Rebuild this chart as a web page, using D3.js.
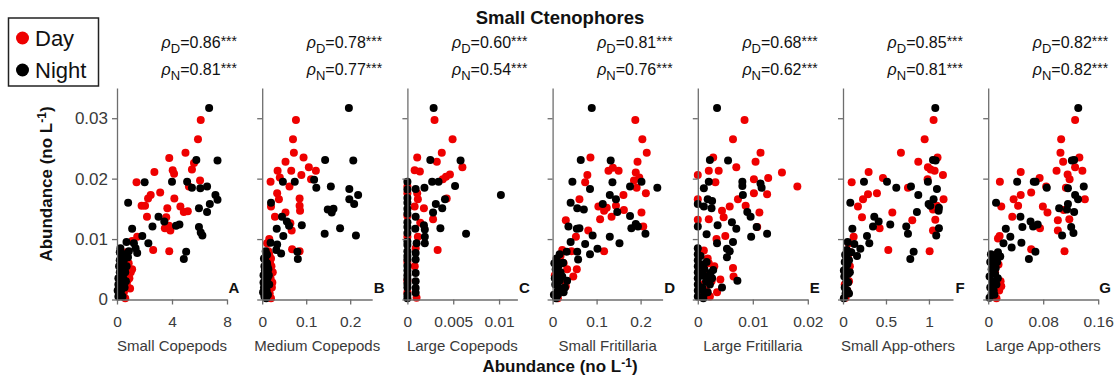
<!DOCTYPE html>
<html><head><meta charset="utf-8">
<script src="https://cdn.jsdelivr.net/npm/d3@7"></script>
<style>body{margin:0;background:#fff}svg{display:block}</style>
</head><body>
<svg id="chart" width="1118" height="378"></svg>
<script>
const categories = ["Small Copepods","Medium Copepods","Large Copepods","Small Fritillaria","Large Fritillaria","Small App-others","Large App-others"];
const panelLetters = ["A","B","C","D","E","F","G"];
const rhoDay = ["0.86","0.78","0.60","0.81","0.68","0.85","0.82"];
const rhoNight = ["0.81","0.77","0.54","0.76","0.62","0.81","0.82"];
const xMax = [8,0.25,0.012,0.25,0.02,1.28,0.16];
const xTicks = [[0,4,8],[0,0.1,0.2],[0,0.005,0.01],[0,0.1,0.2],[0,0.01,0.02],[0,0.5,1],[0,0.08,0.16]];
const xTickLabels = [["0","4","8"],["0","0.1","0.2"],["0","0.005","0.01"],["0","0.1","0.2"],["0","0.01","0.02"],["0","0.5","1"],["0","0.08","0.16"]];
const yTicks = [0,0.01,0.02,0.03];
const yTickLabels = ["0","0.01","0.02","0.03"];
const yMax = 0.035;

const dayA = [[6.09,0.0297],[5.89,0.0265],[4.98,0.0243],[3.80,0.0234],[5.6,0.0226],[5.45,0.0215],[4.05,0.0214],[4.15,0.0208],[2.72,0.0211],[1.42,0.0194],[6.04,0.0197],[5.23,0.0187],[2.45,0.0173],[2.26,0.0167],[3.14,0.0177],[1.79,0.0155],[2.04,0.0155],[4.17,0.0167],[3.66,0.0151],[4.61,0.0154],[4.86,0.0145],[5.15,0.0146],[2.18,0.0137],[3.58,0.0136],[3.78,0.0122],[3.48,0.0118],[3.88,0.0114],[2.63,0.0082],[3.80,0.0080],[1.47,0.0104],[1.10,0.0097],
 [0.6,0.0002],[0.8,0.002],[0.9,0.0035],[1.0,0.0045],[0.7,0.005],[0.5,0.0012],[0.85,0.006],[0.6,0.0065],[0.45,0.0028],[1.1,0.005],[0.75,0.003],[0.55,0.0058],[0.95,0.0018],[0.4,0.007],[0.7,0.0078]];
const nightA = [[6.70,0.0317],[7.31,0.0230],[5.77,0.0231],[2.01,0.0194],[4.0,0.0195],[5.1,0.0195],[5.45,0.0185],[6.06,0.0184],[6.55,0.0187],[7.16,0.0173],[7.31,0.0165],[6.75,0.0158],[0.81,0.0160],[3.02,0.0137],[3.44,0.0129],[4.29,0.0122],[4.54,0.0124],[5.96,0.0151],[6.55,0.0145],[5.96,0.0120],[6.09,0.0111],[6.21,0.0106],[2.58,0.0121],[1.10,0.0117],[1.84,0.0105],[2.28,0.0093],[1.23,0.0093],[1.35,0.0085],[0.69,0.0095],[0.86,0.0080],[5.03,0.0079],[4.86,0.0067],[1.47,0.0077],
 [0.1,0.0005],[0.2,0.001],[0.15,0.002],[0.3,0.0015],[0.25,0.003],[0.1,0.0035],[0.35,0.004],[0.2,0.0045],[0.4,0.005],[0.15,0.0055],[0.3,0.006],[0.5,0.0065],[0.45,0.0035],[0.55,0.002],[0.6,0.0045],[0.7,0.0055],[0.35,0.007],[0.6,0.0075],[0.8,0.007],[0.05,0.0015],[0.4,0.0005],[0.3,0.0025],[0.5,0.0045],[0.2,0.0065],[0.65,0.003],[0.25,0.0085],[0.45,0.0075],[0.1,0.0025],[0.2,0.0078]];

const dayB = [[0.0767,0.0297],[0.070,0.0265],[0.072,0.0243],[0.053,0.0228],[0.094,0.0235],[0.106,0.0219],[0.122,0.0213],[0.035,0.0213],[0.066,0.0213],[0.040,0.0202],[0.089,0.0206],[0.019,0.0195],[0.111,0.0199],[0.062,0.0187],[0.034,0.0176],[0.038,0.0166],[0.085,0.0167],[0.020,0.0154],[0.085,0.0155],[0.086,0.0147],[0.053,0.0144],[0.029,0.0137],[0.064,0.0126],[0.067,0.0114],[0.016,0.0100],[0.068,0.0083],[0.085,0.0080],[0.011,0.0093],
 [0.02,0.0002],[0.022,0.002],[0.019,0.0035],[0.024,0.0045],[0.018,0.006],[0.017,0.001],[0.021,0.0055],[0.016,0.0075],[0.023,0.0028],[0.014,0.008],[0.02,0.0068]];
const nightB = [[0.197,0.0317],[0.143,0.0231],[0.207,0.0230],[0.047,0.0195],[0.074,0.0195],[0.118,0.0198],[0.123,0.0185],[0.156,0.0187],[0.198,0.0183],[0.218,0.0173],[0.198,0.0166],[0.209,0.0158],[0.020,0.0160],[0.149,0.0149],[0.162,0.0150],[0.158,0.0144],[0.045,0.0137],[0.056,0.0129],[0.061,0.0122],[0.033,0.0117],[0.090,0.0123],[0.048,0.0105],[0.142,0.0109],[0.177,0.0118],[0.213,0.0106],[0.019,0.0094],[0.034,0.0091],[0.032,0.0082],[0.043,0.0076],[0.080,0.0079],[0.081,0.0067],[0.008,0.0080],[0.011,0.0074],
 [0.005,0.0005],[0.008,0.001],[0.004,0.002],[0.01,0.0015],[0.006,0.003],[0.012,0.0035],[0.003,0.004],[0.009,0.0045],[0.014,0.005],[0.005,0.0055],[0.011,0.006],[0.007,0.0065],[0.016,0.0025],[0.013,0.0008],[0.002,0.0012],[0.008,0.0072],[0.004,0.0068],[0.015,0.004],[0.01,0.0025],[0.006,0.0048],[0.012,0.0055],[0.003,0.0028],[0.009,0.0002]];

const dayC = [[0.00296,0.0297],[0.00493,0.0265],[0.00375,0.0243],[0.00321,0.0228],[0.00107,0.0235],[0.0060,0.0219],[0.00079,0.0214],[0.00136,0.0212],[0.00464,0.0207],[0.00421,0.0203],[0.00386,0.0199],[0.00107,0.0176],[0.00114,0.0166],[0.00429,0.0167],[0.00079,0.0154],[0.0018,0.0151],[0.0028,0.0133],[0.00114,0.0104],[0.0014,0.0127],[0.0033,0.0082],[0.001,0.0003],
 [0,0.0187],[0,0.0176],[0,0.0138],[0,0.0104],[0,0.0062],[0,0.0031],[0,0.0012],[0.0009,0.0085],[0.0008,0.0055]];
const nightC = [[0.00286,0.0317],[0.0025,0.0231],[0.0058,0.0230],[0.0027,0.0195],[0.0034,0.0195],[0.00186,0.0185],[0.0052,0.0188],[0.0009,0.0183],[0.0102,0.0173],[0.0041,0.0166],[0.0031,0.0158],[0.0038,0.0151],[0.0028,0.0144],[0.0009,0.0137],[0.0018,0.0123],[0.0019,0.0116],[0.00086,0.0117],[0.0036,0.0118],[0.0064,0.0109],[0.0019,0.0104],[0.0019,0.0093],[0.001,0.0093],[0.0009,0.0077],[0.0009,0.0066],[0.0009,0.0044],[0.0009,0.003],[0.0009,0.0019],[0.0009,0.0011],
 [0,0.0195],[0,0.0182],[0,0.0168],[0,0.016],[0,0.015],[0,0.0142],[0,0.0128],[0,0.012],[0,0.011],[0,0.0096],[0,0.009],[0,0.008],[0,0.0072],[0,0.0066],[0,0.0056],[0,0.0048],[0,0.004],[0,0.0034],[0,0.0026],[0,0.002],[0,0.0008],[0,0.0002]];

const dayD = [[0.188,0.0297],[0.204,0.0265],[0.214,0.0243],[0.193,0.0228],[0.086,0.0235],[0.137,0.0218],[0.150,0.0213],[0.127,0.0213],[0.189,0.0210],[0.079,0.0206],[0.197,0.0202],[0.185,0.0197],[0.074,0.0194],[0.191,0.0185],[0.212,0.0176],[0.161,0.0173],[0.061,0.0166],[0.104,0.0154],[0.123,0.0152],[0.117,0.0147],[0.144,0.0155],[0.162,0.0148],[0.108,0.0133],[0.134,0.0137],[0.202,0.0144],[0.030,0.0131],[0.206,0.0121],[0.081,0.0114],[0.053,0.0104],[0.117,0.0080],[0.022,0.0082],[0.043,0.0080],[0.055,0.0050],[0.033,0.0050],[0.047,0.0038],
 [0.012,0.0002],[0.02,0.0015],[0.028,0.003],[0.015,0.0045],[0.025,0.006],[0.01,0.0065],[0.03,0.0022],[0.018,0.0072],[0.005,0.004]];
const nightD = [[0.089,0.0317],[0.064,0.0231],[0.132,0.0230],[0.045,0.0195],[0.136,0.0194],[0.085,0.0183],[0.176,0.0187],[0.202,0.0195],[0.238,0.0185],[0.130,0.0173],[0.144,0.0166],[0.114,0.0158],[0.041,0.0160],[0.056,0.0151],[0.071,0.0149],[0.147,0.0145],[0.176,0.0138],[0.036,0.0121],[0.055,0.0117],[0.061,0.0118],[0.091,0.0106],[0.130,0.0104],[0.179,0.0118],[0.189,0.0125],[0.194,0.0121],[0.211,0.0109],[0.041,0.0095],[0.074,0.0092],[0.152,0.0093],[0.102,0.0084],[0.085,0.0075],[0.056,0.0079],[0.032,0.0079],[0.058,0.0066],[0.024,0.0061],[0.033,0.0031],
 [0.003,0.0008],[0.008,0.0002],[0.012,0.0015],[0.006,0.0025],[0.015,0.003],[0.01,0.004],[0.018,0.0045],[0.007,0.005],[0.013,0.0055],[0.02,0.006],[0.009,0.0068],[0.016,0.0075],[0.025,0.0012],[0.022,0.0038],[0.005,0.0035],[0.012,0.0008],[0.028,0.002],[0.018,0.0018],[0.004,0.006]];

const dayE = [[0.0085,0.0297],[0.0064,0.0265],[0.0114,0.0243],[0.0105,0.0228],[0.0028,0.0235],[0.0070,0.0219],[0.0153,0.0210],[0.0038,0.0213],[0.0020,0.0213],[0,0.0206],[0.0128,0.0201],[0.0102,0.0199],[0.0032,0.0194],[0.0181,0.0187],[0.0126,0.0174],[0.0102,0.0176],[0.0073,0.0166],[0,0.0166],[0.0058,0.0154],[0.0044,0.0147],[0.0047,0.0136],[0.0087,0.0155],[0.0112,0.0144],[0.0020,0.0133],[0,0.0132],[0.0108,0.0120],[0.0050,0.0105],[0.0034,0.0100],[0.0011,0.0081],[0.0064,0.0052],[0.0065,0.0038],[0.0041,0.0033],[0.0020,0.0060],
 [0.0005,0.0005],[0.0015,0.0015],[0.0025,0.003],[0.001,0.0045],[0.003,0.0055],[0.0018,0.0068],[0.0008,0.0025],[0.0035,0.0012],[0.0022,0.0005]];
const nightE = [[0.0035,0.0317],[0.0022,0.0231],[0.0055,0.0230],[0.0020,0.0195],[0.0011,0.0184],[0.0081,0.0195],[0.0081,0.0188],[0.0114,0.0192],[0.0116,0.0185],[0.0082,0.0173],[0.0018,0.0166],[0.0026,0.0163],[0,0.0158],[0.0011,0.0154],[0.0025,0.0151],[0.0090,0.0145],[0.0096,0.0137],[0.0036,0.0123],[0.0062,0.0128],[0.0070,0.0117],[0.0107,0.0120],[0.0097,0.0104],[0.0126,0.0109],[0.0016,0.0108],[0,0.0121],[0.0035,0.0093],[0.0064,0.0095],[0.0053,0.0084],[0.0058,0.0080],[0.0053,0.0070],[0.0072,0.0031],[0.0044,0.0020],[0.0023,0.0044],[0.0028,0.0049],
 [0,0.0085],[0,0.0075],[0,0.0065],[0,0.0055],[0,0.0045],[0,0.0035],[0,0.0025],[0,0.0015],[0,0.0005],[0.001,0.0002],[0.0012,0.001],[0.0008,0.002],[0.0015,0.003],[0.0006,0.004],[0.0012,0.005],[0.0018,0.0012],[0.0022,0.0025],[0.0009,0.0058],[0.0014,0.0038],[0.0026,0.0035],[0.0016,0.0062],[0.0005,0.0072]];

const dayF = [[1.054,0.0297],[0.950,0.0265],[0.674,0.0243],[0.876,0.0228],[1.10,0.0235],[0.988,0.0219],[1.066,0.0213],[1.02,0.0215],[1.163,0.0206],[0.298,0.0211],[0.465,0.0201],[0.984,0.0199],[0.101,0.0194],[0.756,0.0185],[0.291,0.0174],[0.395,0.0176],[0.233,0.0166],[1.17,0.0166],[0.174,0.0154],[0.221,0.0136],[0.574,0.0144],[1.047,0.0149],[1.093,0.0155],[1.074,0.0132],[0.426,0.0118],[0.806,0.0131],[1.047,0.0114],[0.124,0.0104],[0.527,0.0082],[1.008,0.0080],[0.066,0.0093],
 [0.03,0.0003],[0.05,0.0015],[0.07,0.003],[0.04,0.0045],[0.08,0.0055],[0.06,0.0068],[0.02,0.0025],[0.09,0.0078]];
const nightF = [[1.074,0.0317],[1.047,0.0231],[1.078,0.0230],[0.244,0.0195],[0.512,0.0195],[0.620,0.0185],[0.791,0.0187],[0.988,0.0195],[1.093,0.0183],[0.876,0.0173],[1.054,0.0166],[0.996,0.0158],[1.016,0.0155],[1.116,0.0152],[1.112,0.0147],[0.085,0.0160],[0.364,0.0137],[0.415,0.0129],[0.349,0.0121],[0.550,0.0124],[0.736,0.0121],[0.860,0.0145],[0.756,0.0109],[1.085,0.0106],[1.116,0.0118],[0.109,0.0117],[0.279,0.0105],[0.054,0.0095],[0.132,0.0092],[0.306,0.0093],[0.202,0.0084],[0.097,0.0078],[0.822,0.0079],[0.783,0.0067],[0.163,0.0072],
 [0.01,0.0002],[0.03,0.001],[0.02,0.002],[0.05,0.0015],[0.04,0.003],[0.015,0.0038],[0.06,0.0042],[0.03,0.005],[0.05,0.0058],[0.02,0.0062],[0.07,0.0065],[0.04,0.007],[0.06,0.0028],[0.01,0.0048],[0.08,0.0045],[0.025,0.0074],[0.045,0.0082],[0.07,0.001]];

const dayG = [[0.1264,0.0297],[0.1061,0.0265],[0.1051,0.0243],[0.109,0.0228],[0.1326,0.0235],[0.0994,0.0213],[0.1264,0.0219],[0.137,0.0213],[0.0473,0.0211],[0.1155,0.0207],[0.1184,0.0199],[0.0748,0.0201],[0.017,0.0195],[0.0843,0.0187],[0.113,0.0185],[0.0625,0.0177],[0.0473,0.0173],[0.037,0.0166],[0.1406,0.0166],[0.0435,0.0155],[0.019,0.0154],[0.0795,0.0154],[0.0862,0.0144],[0.035,0.0137],[0.1098,0.0148],[0.1013,0.0131],[0.118,0.0133],[0.0753,0.0118],[0.1013,0.0114],[0.0142,0.0101],[0.0625,0.0083],[0.111,0.0080],[0.0166,0.0105],
 [0.012,0.0002],[0.016,0.0015],[0.018,0.003],[0.01,0.0045],[0.015,0.0058],[0.008,0.0068],[0.019,0.0022],[0.013,0.0075]];
const nightG = [[0.131,0.0317],[0.1217,0.0230],[0.125,0.0231],[0.0421,0.0195],[0.0663,0.0195],[0.069,0.0195],[0.0852,0.0185],[0.116,0.0184],[0.139,0.0187],[0.1264,0.0173],[0.0114,0.0160],[0.1307,0.0166],[0.1032,0.0151],[0.116,0.0158],[0.1146,0.0149],[0.125,0.0145],[0.0469,0.0137],[0.0616,0.0129],[0.072,0.0124],[0.0497,0.0120],[0.0653,0.0121],[0.1207,0.0120],[0.1075,0.0106],[0.124,0.0110],[0.0256,0.0117],[0.0322,0.0104],[0.0222,0.0093],[0.0341,0.0086],[0.0483,0.0094],[0.0687,0.0079],[0.0592,0.0067],[0.0142,0.0078],[0.0175,0.0071],[0.0095,0.0069],
 [0.002,0.0003],[0.005,0.001],[0.003,0.002],[0.008,0.0015],[0.006,0.003],[0.002,0.0038],[0.01,0.0042],[0.005,0.005],[0.008,0.0058],[0.003,0.0062],[0.012,0.0025],[0.007,0.0068],[0.011,0.0052],[0.004,0.0075],[0.014,0.0035],[0.009,0.0008],[0.013,0.0062]];

const dayData = [dayA,dayB,dayC,dayD,dayE,dayF,dayG];
const nightData = [nightA,nightB,nightC,nightD,nightE,nightF,nightG];

const svg = d3.select("#chart");
const FONT = "Liberation Sans, Arial, sans-serif";
const axisColor = "#6e6e6e", textColor = "#3a3a3a";
const RED = "#ee0000", BLACK = "#000";
const plotTop = 88, plotBottom = 299.5, panelW = 110, left0 = 117, step = 145.2;
const y = d3.scaleLinear().domain([0, yMax]).range([plotBottom, plotTop]);

svg.append("text").attr("x", 560).attr("y", 24).attr("text-anchor","middle")
  .attr("font-family", FONT).attr("font-weight","bold").attr("font-size",18.5).attr("fill","#111")
  .text("Small Ctenophores");

categories.forEach((cat, i) => {
  const L = left0 + i*step;
  const x = d3.scaleLinear().domain([0, xMax[i]]).range([L, L+panelW]);
  const g = svg.append("g");
  g.selectAll("circle.d").data(dayData[i]).join("circle").attr("class","d")
    .attr("cx", d => x(d[0])).attr("cy", d => y(d[1])).attr("r", 4).attr("fill", RED);
  g.selectAll("circle.n").data(nightData[i]).join("circle").attr("class","n")
    .attr("cx", d => x(d[0])).attr("cy", d => y(d[1])).attr("r", 4).attr("fill", BLACK);
  const xa = d3.axisBottom(x).tickValues(xTicks[i]).tickFormat((d,k) => xTickLabels[i][k]).tickSize(5).tickSizeOuter(0);
  const gx = svg.append("g").attr("transform", `translate(0,${plotBottom})`).call(xa);
  gx.select(".domain").attr("stroke", axisColor).attr("stroke-width", 1.3);
  gx.selectAll(".tick line").attr("stroke", axisColor).attr("stroke-width", 1.3);
  gx.selectAll(".tick text").attr("font-family", FONT).attr("font-size", 15.5).attr("fill", textColor).attr("dy", "0.71em").attr("y", 16);
  const ya = d3.axisLeft(y).tickValues(yTicks).tickFormat((d,k) => i === 0 ? yTickLabels[k] : "").tickSize(5).tickSizeOuter(0);
  const gy = svg.append("g").attr("transform", `translate(${L},0)`).call(ya);
  gy.select(".domain").attr("stroke", axisColor).attr("stroke-width", 1.3);
  gy.selectAll(".tick line").attr("stroke", axisColor).attr("stroke-width", 1.3);
  gy.selectAll(".tick text").attr("font-family", FONT).attr("font-size", 17).attr("fill", textColor).attr("x", -9);
  svg.append("text").attr("x", L + panelW/2).attr("y", 351).attr("text-anchor","middle")
    .attr("font-family", FONT).attr("font-size", 15).attr("fill", textColor).text(cat);
  svg.append("text").attr("x", L + panelW + 7).attr("y", 293).attr("text-anchor","middle")
    .attr("font-family", FONT).attr("font-weight","bold").attr("font-size", 15).attr("fill", "#111").text(panelLetters[i]);
  [[rhoDay[i],"D",48],[rhoNight[i],"N",75]].forEach(([val, sub, by]) => {
    const t = svg.append("text").attr("x", L + panelW + 10).attr("y", by).attr("text-anchor","end")
      .attr("font-family", FONT).attr("font-size", 16).attr("fill", "#111");
    t.append("tspan").attr("font-style","italic").text("ρ");
    t.append("tspan").attr("dy", 5).attr("font-size", 13).text(sub);
    t.append("tspan").attr("dy", -5).text("=" + val);
    t.append("tspan").attr("font-size", 14).attr("dy", -2).text("***");
  });
});

const yt = svg.append("text").attr("transform", "translate(52,184) rotate(-90)").attr("text-anchor","middle")
  .attr("font-family", FONT).attr("font-weight","bold").attr("font-size", 17).attr("fill", "#111");
yt.append("tspan").text("Abundance (no L");
yt.append("tspan").attr("font-size", 12).attr("dy", -6).text("-1");
yt.append("tspan").attr("dy", 6).text(")");

const xt = svg.append("text").attr("x", 560).attr("y", 372).attr("text-anchor","middle")
  .attr("font-family", FONT).attr("font-weight","bold").attr("font-size", 17).attr("fill", "#111");
xt.append("tspan").text("Abundance (no L");
xt.append("tspan").attr("font-size", 12).attr("dy", -5).text("-1");
xt.append("tspan").attr("dy", 5).text(")");

const lg = svg.append("g");
lg.append("rect").attr("x", 8.5).attr("y", 18).attr("width", 90).attr("height", 68)
  .attr("fill", "#fff").attr("stroke", "#222").attr("stroke-width", 1.5);
const legendItems = [["Day", RED, 38], ["Night", BLACK, 70]];
legendItems.forEach(([lab, col, cy]) => {
  lg.append("circle").attr("cx", 22.5).attr("cy", cy).attr("r", 6.5).attr("fill", col);
  lg.append("text").attr("x", 35).attr("y", cy + 8).attr("font-family", FONT).attr("font-size", 22).attr("fill", "#111").text(lab);
});
</script>
</body></html>
